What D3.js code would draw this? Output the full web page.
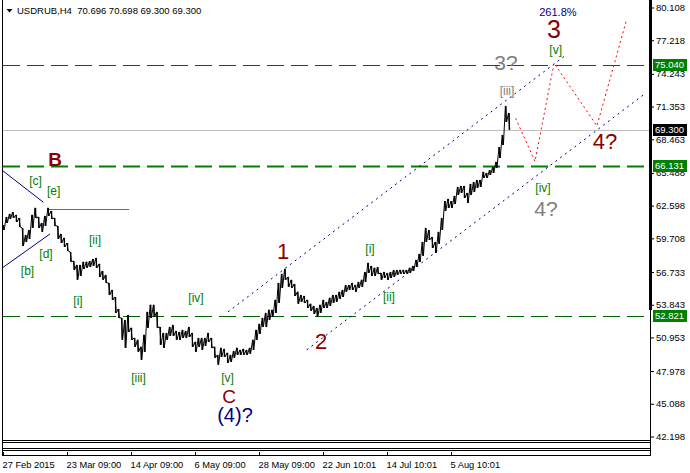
<!DOCTYPE html>
<html><head><meta charset="utf-8">
<script src="https://cdnjs.cloudflare.com/ajax/libs/d3/7.8.5/d3.min.js"></script>
<style>
html,body{margin:0;padding:0;background:#fff;}
svg{display:block;font-family:"Liberation Sans",Arial,sans-serif;}
</style></head><body>
<svg id="chart" width="690" height="473"></svg>
<script>
// ---------- DATA ----------
const symbolTitle = "USDRUB,H4  70.696 70.698 69.300 69.300";
const priceHigh = [60.89,61.60,61.87,62.04,61.78,61.51,60.63,60.01,60.45,61.78,
62.40,61.60,61.07,61.69,62.40,62.13,61.51,60.81,60.10,59.75,
59.30,58.51,57.71,57.36,57.36,57.63,57.63,57.71,57.89,57.98,
57.45,56.83,56.48,55.77,55.15,54.53,53.47,52.68,52.50,52.94,
51.80,50.91,50.74,50.12,51.18,53.21,53.83,53.83,53.21,51.88,
51.35,51.35,51.88,52.06,51.53,51.44,51.62,51.53,51.88,51.35,
50.56,50.91,50.91,50.91,51.35,50.91,50.12,49.41,50.03,49.94,
49.59,49.41,49.76,50.03,49.85,49.94,49.85,50.03,50.74,51.62,
52.15,52.68,53.12,53.39,53.39,54.27,55.77,56.57,57.01,56.30,
56.04,55.68,54.98,54.71,54.62,54.27,53.92,53.74,53.56,53.83,
54.27,54.09,54.45,54.71,54.71,54.98,55.15,55.59,55.59,55.77,
55.59,55.86,56.04,56.74,57.54,57.27,57.10,57.18,56.65,56.74,
56.65,56.74,56.92,56.92,56.92,56.92,56.92,57.10,57.27,57.80,
58.33,59.39,60.63,60.45,59.83,59.39,60.28,61.51,63.01,63.19,
63.01,63.46,64.25,64.34,64.34,63.72,64.52,64.69,64.87,64.87,
65.58,65.49,65.75,66.02,66.46,67.78,68.84,71.41,70.79];
const priceLow = [60.45,61.07,61.42,61.51,61.16,60.72,59.04,59.39,59.66,60.63,
61.51,60.63,60.28,60.81,61.69,61.42,60.81,59.66,59.30,58.95,
58.60,57.63,56.92,56.04,56.39,57.01,57.10,57.18,57.27,57.10,
56.30,56.04,55.77,54.71,54.27,53.12,52.68,50.74,50.03,51.44,
50.74,50.12,49.68,48.97,49.68,51.80,52.68,52.77,51.80,50.29,
50.03,50.74,51.09,51.09,50.74,50.74,50.91,50.91,51.00,50.12,
49.68,50.12,49.85,50.21,50.56,50.03,49.15,48.53,49.23,49.23,
48.70,48.79,49.15,49.41,49.41,49.41,49.41,49.50,49.85,50.74,
51.27,51.88,51.88,52.50,52.77,53.12,54.00,55.33,56.04,55.42,
55.33,54.62,53.92,54.09,54.00,53.56,53.30,53.03,52.77,53.12,
53.56,53.56,53.74,54.00,54.09,54.36,54.53,54.98,55.15,55.15,
54.98,55.33,55.42,55.86,56.65,56.39,56.39,56.57,56.04,56.21,
56.04,56.21,56.30,56.48,56.57,56.57,56.57,56.65,56.83,57.18,
57.63,58.16,59.39,59.57,58.86,58.42,59.22,60.45,62.13,62.40,
62.40,62.75,63.54,63.72,63.28,62.84,63.54,63.81,64.16,64.25,
65.05,65.05,65.31,65.49,65.93,66.81,67.96,69.99,69.30];

const priceTicks = [80.108,77.218,74.243,71.353,68.463,65.488,62.598,59.708,56.733,53.843,50.953,47.978,45.088,42.198];
const dateTickIndex = [0,20,40,60,80,100,120,140];
const dateLabels = ["27 Feb 2015","23 Mar 09:00","14 Apr 09:00","6 May 09:00","28 May 09:00","22 Jun 10:01","14 Jul 10:01","5 Aug 10:01"];

const levelPrices = [75.040, 66.131, 52.821];
const lastPrice = 69.300;

// channel and triangle lines [index, price] pairs
const upperChannel = [[70.3,53.21],[175.9,75.91]];
const lowerChannel = [[94.9,49.85],[200.8,72.53]];
const triangleUpper = [[-0.1,65.69],[12.6,62.90]];
const triangleLower = [[-0.1,57.12],[14.7,60.10]];
const magentaLevel = [[14.5,62.28],[39.4,62.28]];
const projection = [[160.2,70.32],[166.25,66.50],[172.2,75.20],[185.6,69.64],[194.7,78.85]];

const waveText  = ["B","[c]","[e]","[d]","[b]","[ii]","[i]","[iv]","[iii]","[v]","C","(4)?","1","2","[i]","[ii]","261.8%","3","[v]","3?","[iii]","4?","[iv]","4?"];
const waveIndex = [16.25,10.16,15.84,13.44,7.66,28.75,23.44,60.31,42.34,70.16,70.63,72.5,87.5,99.4,114.7,120.6,173.4,172.2,172.7,157.2,157.5,188.1,168.75,169.7];
const wavePrice = [66.72,64.74,63.90,58.33,56.83,59.52,54.14,54.36,47.33,47.33,45.79,43.98,58.55,50.65,58.69,54.45,79.71,78.21,76.35,75.21,72.69,68.27,64.16,62.31];
const waveKind  = ["majB","min","min","min","min","min","min","min","min","min","majC","deg","maj","maj","min","min","pct","maj3","min","gray","minGray","maj","min","gray"];

// ---------- CHART ----------
const svg = d3.select("#chart");
const W = 690, H = 473;
const plotL = 2, plotR = 650, plotT = 0, plotB = 440;

const x = d3.scaleLinear().domain([0, 200]).range([3, 643]);
const y = d3.scaleLinear().domain([42.198, 80.108]).range([436.5, 7.5]);

svg.append("rect").attr("width", W).attr("height", H).attr("fill", "#fff");

svg.append("defs").append("clipPath").attr("id","plotclip")
  .append("rect").attr("x", plotL).attr("y", plotT).attr("width", plotR-plotL).attr("height", plotB-plotT);

const plot = svg.append("g").attr("clip-path","url(#plotclip)");

// current price line
plot.append("line").attr("x1", plotL).attr("x2", plotR)
  .attr("y1", Math.round(y(lastPrice))+0.5).attr("y2", Math.round(y(lastPrice))+0.5)
  .attr("stroke", "#c0c0c0").attr("stroke-width", 1);

// level lines
levelPrices.forEach((p, k) => {
  const yy = Math.round(y(p)) + 0.5;
  plot.append("line").attr("x1", plotL+1).attr("x2", plotR)
    .attr("y1", yy).attr("y2", yy)
    .attr("stroke", k === 1 ? "#008000" : "#006400")
    .attr("stroke-width", k === 1 ? 2 : 1)
    .attr("stroke-dasharray", "17,7");
});

const line = d3.line().x(d => x(d[0])).y(d => y(d[1]));

// channel lines
[upperChannel, lowerChannel].forEach(c => {
  plot.append("path").attr("d", line(c)).attr("fill","none")
    .attr("stroke", "#000080").attr("stroke-width", 1).attr("stroke-dasharray", "2,4");
});
// triangle lines
[triangleUpper, triangleLower].forEach(c => {
  plot.append("path").attr("d", line(c)).attr("fill","none")
    .attr("stroke", "#000080").attr("stroke-width", 1);
});
plot.append("path").attr("d", line(magentaLevel)).attr("fill","none")
  .attr("stroke", "#ff00ff").attr("stroke-width", 1).attr("shape-rendering","crispEdges");

// projection
plot.append("path").attr("d", line(projection)).attr("fill","none")
  .attr("stroke", "#ff0000").attr("stroke-width", 1).attr("stroke-dasharray", "2,3");

// price bars
const bars = priceHigh.map((h, i) => ({i, h, l: priceLow[i]}));
let zz = "";
bars.forEach((b, k) => {
  zz += (k === 0 ? "M" : "L") + x(b.i) + "," + y(b.h) + "L" + (x(b.i)+1.2) + "," + y(b.l);
});
plot.append("path").attr("d", zz).attr("fill","none").attr("stroke","#000").attr("stroke-width",1);
plot.selectAll("line.bar").data(bars).enter().append("line").attr("class","bar")
  .attr("x1", d => x(d.i)+0.6).attr("x2", d => x(d.i)+0.6)
  .attr("y1", d => y(d.h)).attr("y2", d => y(d.l))
  .attr("stroke","#000").attr("stroke-width",1.3);

// wave labels
const styles = {
  majB:   {size: 19, color: "#8b0000", weight: "bold",   dy: 0.36},
  maj:    {size: 22, color: "#8b0000", weight: "normal", dy: 0.36},
  maj3:   {size: 25, color: "#8b0000", weight: "normal", dy: 0.36},
  majC:   {size: 19, color: "#8b0000", weight: "normal", dy: 0.36},
  min:    {size: 12, color: "#008000", weight: "normal", dy: 0.30},
  minGray:{size: 12, color: "#808080", weight: "normal", dy: 0.30},
  deg:    {size: 20, color: "#000080", weight: "normal", dy: 0.30},
  pct:    {size: 11, color: "#000080", weight: "normal", dy: 0.36},
  gray:   {size: 21, color: "#808080", weight: "normal", dy: 0.36}
};
waveText.forEach((t, k) => {
  const s = styles[waveKind[k]];
  svg.append("text").attr("x", x(waveIndex[k])).attr("y", y(wavePrice[k]))
    .attr("dy", s.dy + "em").attr("text-anchor","middle")
    .attr("font-size", s.size).attr("font-weight", s.weight).attr("fill", s.color)
    .text(t);
});

// frame
svg.append("line").attr("x1", 2.5).attr("x2", 2.5).attr("y1", 0).attr("y2", 456).attr("stroke","#000");
svg.append("line").attr("x1", 650.5).attr("x2", 650.5).attr("y1", 0).attr("y2", 456).attr("stroke","#000");
svg.append("line").attr("x1", 2).attr("x2", 651).attr("y1", 440.5).attr("y2", 440.5).attr("stroke","#000");
svg.append("rect").attr("x", 2.5).attr("y", 442.5).attr("width", 648).attr("height", 6).attr("fill","#fff").attr("stroke","#000");
svg.append("rect").attr("x", 2.5).attr("y", 450.5).attr("width", 648).attr("height", 5).attr("fill","#fff").attr("stroke","#000");
svg.append("rect").attr("x", 649).attr("y", 0).attr("width", 3).attr("height", 310).attr("fill","#000");

// right axis
const yAxis = d3.axisRight(y).tickValues(priceTicks).tickSize(3).tickPadding(2).tickFormat(d3.format(".3f"));
const ya = svg.append("g").attr("transform","translate(651,0)").call(yAxis);
ya.select(".domain").remove();
ya.selectAll("text").attr("font-size", 9.5).attr("font-family","'Liberation Sans',Arial,sans-serif").attr("fill","#000");

// price boxes
const boxPrices = [levelPrices[0], lastPrice, levelPrices[1], levelPrices[2]];
const boxColors = ["#008000", "#000000", "#008000", "#008000"];
boxPrices.forEach((p, k) => {
  const yy = Math.round(y(p));
  svg.append("rect").attr("x", 653).attr("y", yy-6).attr("width", 34).attr("height", 12).attr("fill", boxColors[k]);
  svg.append("text").attr("x", 655).attr("y", yy).attr("dy","0.36em")
    .attr("font-size", 9.5).attr("fill","#fff").text(d3.format(".3f")(p));
});

// bottom axis
const xAxis = d3.axisBottom(x).tickValues(dateTickIndex).tickSize(4).tickPadding(5)
  .tickFormat((d, i) => dateLabels[i]);
const xa = svg.append("g").attr("transform","translate(0,452)").call(xAxis);
xa.select(".domain").remove();
xa.selectAll("text").attr("font-size", 9.3).attr("text-anchor","start").attr("dx", -1)
  .attr("font-family","'Liberation Sans',Arial,sans-serif").attr("fill","#000");

// title
svg.append("path").attr("d","M6.5,9 L12.5,9 L9.5,12.5 Z").attr("fill","#000");
svg.append("text").attr("x", 17).attr("y", 14).attr("font-size", 9.5).attr("fill","#000")
  .attr("xml:space","preserve").style("white-space","pre").text(symbolTitle);
</script>
</body></html>
